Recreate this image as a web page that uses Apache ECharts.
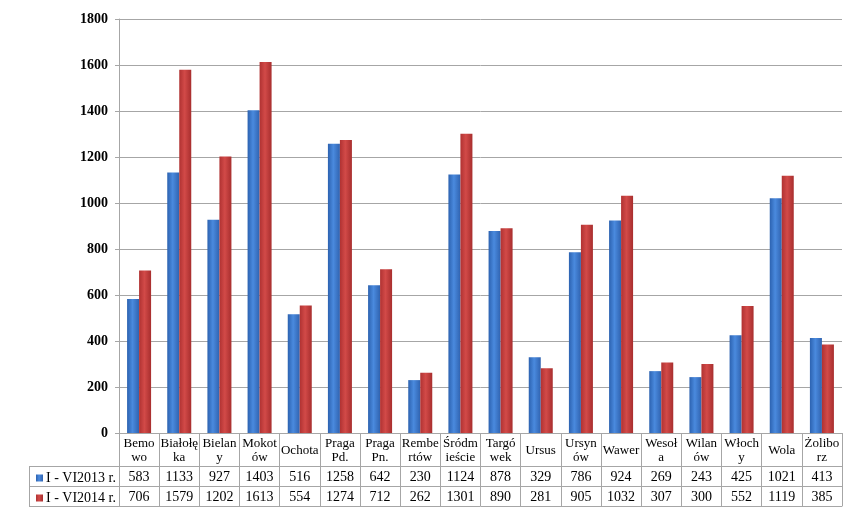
<!DOCTYPE html>
<html>
<head>
<meta charset="utf-8">
<script src="https://cdn.jsdelivr.net/npm/echarts@6/dist/echarts.min.js"></script>
<style>html,body{margin:0;padding:0;background:#fff}#c{width:852px;height:515px}</style>
</head>
<body>
<div id="c"></div>
<script>
var categories = ["Bemo\nwo","Białołę\nka","Bielan\ny","Mokot\nów","Ochota","Praga\nPd.","Praga\nPn.","Rembe\nrtów","Śródm\nieście","Targó\nwek","Ursus","Ursyn\nów","Wawer","Wesoł\na","Wilan\nów","Włoch\ny","Wola","Żolibo\nrz"];
var seriesNames = ["I - VI2013 r.", "I - VI2014 r."];
var values2013 = [583,1133,927,1403,516,1258,642,230,1124,878,329,786,924,269,243,425,1021,413];
var values2014 = [706,1579,1202,1613,554,1274,712,262,1301,890,281,905,1032,307,300,552,1119,385];
var yMin = 0, yMax = 1800, yStep = 200;

var FONT = "'Liberation Serif', 'Times New Roman', serif";
var LINE = "#a6a6a6";
var chart = echarts.init(document.getElementById('c'), null, {renderer:'canvas'});

function grad(c1, c2, c3) {
  return new echarts.graphic.LinearGradient(0,0,1,0,[
    {offset:0,color:c1},{offset:0.45,color:c2},{offset:1,color:c3}]);
}

var tableX = 29, axisX = 119, rows = [433, 466, 486, 506];

chart.setOption({
  animation:false,
  backgroundColor:'#fff',
  grid:{left:axisX, right:10, top:19, bottom:515-433, containLabel:false},
  legend:{
    orient:'vertical', left:31, top:466, itemWidth:7, itemHeight:7, itemGap:6,
    icon:'rect', selectedMode:false,
    textStyle:{fontFamily:FONT, fontSize:14, color:'#000', padding:[0,0,0,-2]},
    data:seriesNames
  },
  xAxis:[
    {type:'category', data:categories, position:'bottom',
     axisLine:{show:true, lineStyle:{color:LINE}},
     axisTick:{show:true, interval:0, length:rows[3]-rows[0], lineStyle:{color:LINE}},
     axisLabel:{interval:0, margin:18, verticalAlign:'middle', fontFamily:FONT, fontSize:13, lineHeight:14, color:'#000'}},
    {type:'category', data:categories, position:'bottom', offset:rows[1]-rows[0],
     axisLine:{show:true, lineStyle:{color:LINE}}, axisTick:{show:false},
     axisLabel:{interval:0, margin:11, verticalAlign:'middle', fontFamily:FONT, fontSize:14, color:'#000',
       formatter:function(v,i){return String(values2013[i]);}}},
    {type:'category', data:categories, position:'bottom', offset:rows[2]-rows[0],
     axisLine:{show:true, lineStyle:{color:LINE}}, axisTick:{show:false},
     axisLabel:{interval:0, margin:11, verticalAlign:'middle', fontFamily:FONT, fontSize:14, color:'#000',
       formatter:function(v,i){return String(values2014[i]);}}},
    {type:'category', data:categories, position:'bottom', offset:rows[3]-rows[0],
     axisLine:{show:true, lineStyle:{color:LINE}}, axisTick:{show:false}, axisLabel:{show:false}}
  ],
  yAxis:{type:'value', min:yMin, max:yMax, interval:yStep,
    axisLine:{show:true, lineStyle:{color:LINE}},
    axisTick:{show:true, length:4, lineStyle:{color:LINE}},
    splitLine:{show:true, lineStyle:{color:LINE}},
    axisLabel:{margin:11, fontFamily:FONT, fontSize:14, fontWeight:'bold', color:'#000',
      formatter:function(v){return String(v);}}},
  series:[
    {name:seriesNames[0], type:'bar', data:values2013, xAxisIndex:0, barWidth:12, barGap:'0%',
     itemStyle:{color:grad('#2c62b0','#4a8ade','#3063b0')}},
    {name:seriesNames[1], type:'bar', data:values2014, xAxisIndex:0, barWidth:12, barGap:'0%',
     itemStyle:{color:grad('#b03232','#d24a48','#a82e2e')}}
  ],
  graphic:[
    {type:'line', shape:{x1:tableX,y1:rows[1]+0.5,x2:axisX,y2:rows[1]+0.5}, style:{stroke:LINE,lineWidth:1}},
    {type:'line', shape:{x1:tableX,y1:rows[2]+0.5,x2:axisX,y2:rows[2]+0.5}, style:{stroke:LINE,lineWidth:1}},
    {type:'line', shape:{x1:tableX,y1:rows[3]+0.5,x2:axisX,y2:rows[3]+0.5}, style:{stroke:LINE,lineWidth:1}},
    {type:'line', shape:{x1:tableX+0.5,y1:rows[1],x2:tableX+0.5,y2:rows[3]+1}, style:{stroke:LINE,lineWidth:1}}
  ]
});
</script>
</body>
</html>
